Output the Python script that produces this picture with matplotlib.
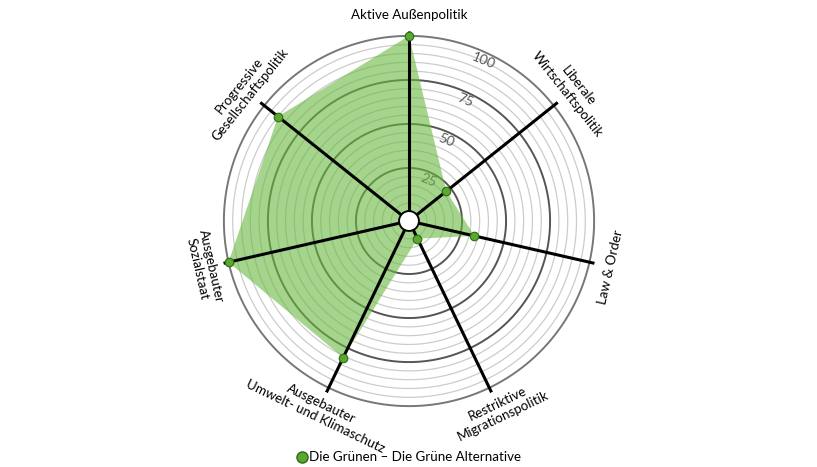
import matplotlib
matplotlib.use("Agg")
import matplotlib.pyplot as plt
import numpy as np
from matplotlib.patches import Circle
from matplotlib.lines import Line2D

plt.rcParams['font.family'] = ['Lato', 'DejaVu Sans']

# data
categories = ['Aktive Außenpolitik', 'Liberale\nWirtschaftspolitik', 'Law & Order',
              'Restriktive\nMigrationspolitik', 'Ausgebauter\nUmwelt- und Klimaschutz',
              'Ausgebauter\nSozialstaat', 'Progressive\nGesellschaftspolitik']
values = [100, 22, 33, 6, 81, 100, 90]
party = 'Die Grünen – Die Grüne Alternative'
ring_ticks = [25, 50, 75, 100]

fill_col = '#6ab83f'
dot_col = '#5aa82e'

fig = plt.figure(figsize=(8.17, 4.67), dpi=100)
R = 190.4
ax = fig.add_axes([(409 - R) / 817, (467 - 221 - R) / 467, 2 * R / 817, 2 * R / 467],
                  projection='polar')
ax.set_theta_zero_location('N')
ax.set_theta_direction(-1)
ax.set_rorigin(-5.11)
ax.set_ylim(0, 103)
ax.axis('off')

n = len(categories)
ang = np.arange(n) * 2 * np.pi / n
full = np.linspace(0, 2 * np.pi, 400)

# rings
for r in range(5, 101, 5):
    if r in ring_ticks:
        col = '#777777' if r == 100 else '#555555'
        ax.plot(full, np.full_like(full, r), color=col, lw=1.4, zorder=1)
    else:
        ax.plot(full, np.full_like(full, r), color='#cccccc', lw=0.9, zorder=1)

# ring labels
lab_ang = np.deg2rad(25)
for r in ring_ticks:
    ax.text(lab_ang, r - 4.5, str(r), rotation=-22, ha='center', va='center',
            fontsize=10, color='#555555', zorder=1.5)

# polygon
th = np.append(ang, ang[0])
vv = np.append(values, values[0])
ax.fill(th, vv, color=fill_col, alpha=0.6, lw=0, zorder=2)

# spokes
for a in ang:
    ax.plot([a, a], [0, 103], color='black', lw=2.2, zorder=3, solid_capstyle='butt')

ax.scatter(ang, values, s=38, color=dot_col, edgecolor='#2f6b17', lw=0.8, zorder=5,
           clip_on=False)

# center hole
ax.add_patch(Circle((0.5, 0.5), 9.5 / (2 * R), transform=ax.transAxes,
                    facecolor='white', edgecolor='black', lw=2, zorder=6))

# category labels
for a, lab in zip(ang, categories):
    deg = 90 - np.rad2deg(a)
    deg = (deg + 180) % 360 - 180
    if deg >= 0 or deg <= -180:
        rot = deg - 90
    else:
        rot = deg + 90
    rr = 112 if '\n' not in lab else 114
    ax.text(a, rr, lab, rotation=rot, rotation_mode='anchor', ha='center',
            va='center', fontsize=9.6, color='black', clip_on=False,
            linespacing=1.15)

handle = Line2D([], [], marker='o', ls='none', markersize=8, markerfacecolor=dot_col,
                markeredgecolor='#2f6b17')
fig.legend([handle], [party], loc='lower center', bbox_to_anchor=(0.5, -0.018),
           frameon=False, fontsize=9.6, handletextpad=0.05, handlelength=1.0)

fig.savefig('out.png', dpi=100)
